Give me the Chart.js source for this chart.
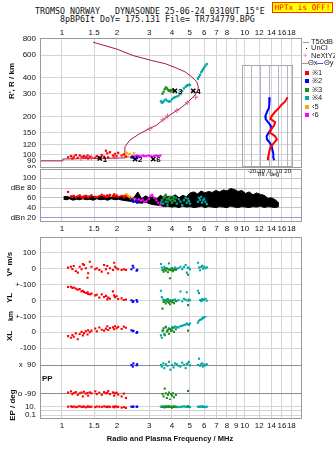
<!DOCTYPE html>
<html>
<head>
<meta charset="utf-8">
<title>Dynasonde ionogram</title>
<script src="https://cdn.jsdelivr.net/npm/chart.js@4.4.1/dist/chart.umd.min.js"></script>
<style>
  body { margin: 0; background: #fff; }
  #page { position: relative; width: 335px; height: 451px; overflow: hidden; font-family: "Liberation Sans", Arial, sans-serif; color: #111; }
  canvas { position: absolute; }
  .txt { position: absolute; white-space: pre; line-height: 1; }
  .mono { font-family: "DejaVu Sans Mono", monospace; font-size: 8.3px; line-height: 9px; }
  .rot { transform: translate(-50%, -50%) rotate(-90deg); font-weight: bold; font-size: 8px; }
  .leg { position: absolute; font-size: 7.5px; line-height: 8px; white-space: pre; color: #222; }
  .sq { position: absolute; width: 4px; height: 4px; }
  .ln { position: absolute; height: 1px; }
</style>
</head>
<body>
<div id="page">
  <div class="txt mono" style="left:35px;top:7px;">TROMSO NORWAY   DYNASONDE 25-06-24 0310UT 15°E</div>
  <div class="txt mono" style="left:60px;top:15px;">8pBP6It DoY= 175.131 File= TR734779.BPG</div>
  <div class="txt mono" style="left:272px;top:2px;width:59px;height:9px;background:#ffff00;border:1px solid #ff3000;color:#ff0000;font-size:7.7px;text-align:center;">HPTx is OFF!</div>

  <canvas id="main" width="335" height="144" style="left:0;top:24px;"></canvas>
  <canvas id="amp" width="335" height="68" style="left:0;top:168px;"></canvas>
  <canvas id="lower" width="335" height="215" style="left:0;top:236px;"></canvas>
  <canvas id="tilt" width="64" height="110" style="left:236px;top:65px;z-index:2;"></canvas>

  <div class="txt rot" style="left:12px;top:81px;">R', R / km</div>
  <div class="txt" style="left:268px;top:171px;font-size:6px;transform:translateX(-50%);z-index:3;">Tilt / deg</div>
  <div class="txt rot" style="left:10px;top:264px;">V* m/s</div>
  <div class="txt rot" style="left:10px;top:298px;">YL</div>
  <div class="txt rot" style="left:10px;top:316px;font-size:7px;">km</div>
  <div class="txt rot" style="left:10px;top:336px;">XL</div>
  <div class="txt" style="left:42px;top:375px;font-size:8px;font-weight:bold;">PP</div>
  <div class="txt rot" style="left:13px;top:405px;">EP / deg</div>
  <div class="txt" style="left:170px;top:435px;font-size:7.5px;font-weight:bold;transform:translateX(-50%);">Radio and Plasma Frequency / MHz</div>

  <div class="ln" style="left:303px;top:42px;width:6px;background:#999;"></div>
  <div class="leg" style="left:311px;top:38px;">T50dB</div>
  <div class="sq" style="left:306px;top:48px;width:1px;height:1px;background:#000;"></div>
  <div class="leg" style="left:311px;top:44px;">UnCl</div>
  <div class="leg" style="left:303px;top:52px;color:#e0608c;">+</div>
  <div class="leg" style="left:311px;top:52px;">NeXtYZ</div>
  <div class="ln" style="left:302px;top:63px;width:6px;background:#f07090;"></div>
  <div class="leg" style="left:308px;top:59px;">Θx</div>
  <div class="ln" style="left:317px;top:63px;width:6px;background:#5050ff;"></div>
  <div class="leg" style="left:324px;top:59px;">Θy</div>
  <div class="sq" style="left:305px;top:71px;background:#ff0000;"></div>
  <div class="leg" style="left:312px;top:69px;">※1</div>
  <div class="sq" style="left:305px;top:79px;background:#0000ff;"></div>
  <div class="leg" style="left:312px;top:77px;">※2</div>
  <div class="sq" style="left:305px;top:88px;background:#1f8c1f;"></div>
  <div class="leg" style="left:312px;top:86px;">※3</div>
  <div class="sq" style="left:305px;top:96px;background:#00a6a6;"></div>
  <div class="leg" style="left:312px;top:94px;">※4</div>
  <div class="sq" style="left:305px;top:105px;background:#ffa500;"></div>
  <div class="leg" style="left:312px;top:103px;">‹5</div>
  <div class="sq" style="left:305px;top:113px;background:#ff00ff;"></div>
  <div class="leg" style="left:312px;top:111px;">‹6</div>
</div>

<script>
// frequency axis (MHz) and tick values
const fMin = 0.758;
const fMax = 20.59;
const freqTicks = [1, 1.5, 2, 3, 4, 5, 6, 7, 8, 9, 10, 12, 14, 16, 18];
const heightTicks = [80, 90, 100, 120, 150, 200, 300, 400, 600, 800];
const ampTicks = [20, 40, 60, 80, 100];
const ampLabels = ['dBn 20', '40', '60', 'dBe 80', '100'];
const tiltTicks = [-20, -10, 0, 10, 20];

// plasma frequency profile
const profileFreq = [0.76, 1.01, 1.01, 1.5, 2.0, 2.21, 2.21, 2.36, 2.67, 3.03, 3.3, 3.59, 3.9, 4.15, 4.52, 4.92, 5.34, 5.55, 5.57, 5.46, 5.12, 4.71, 4.15, 3.7, 3.03, 2.45, 1.99, 1.61, 1.48];
const profileHeight = [90, 90, 93, 94, 94.5, 95, 116, 131, 147, 161, 171, 189, 205, 217, 235, 260, 293, 320, 340, 372, 406, 444, 480, 512, 548, 594, 668, 728, 754];

// NeXtYZ points
const nxFreq = [1.27, 1.45, 1.95, 3.03, 3.57, 3.78, 4.25, 4.85, 5.40];
const nxHeight = [94, 95, 97, 161, 188, 201, 222, 255, 282];

// trace markers
const markFreq = [1.61, 2.51, 3.16, 4.15, 5.23];
const markHeight = [94, 93, 93, 316, 316];
const markText = ['1', '2', '6', '3', '4'];

// echo 1 (red)
const x1Freq = [1.08, 1.12, 1.14, 1.16, 1.19, 1.22, 1.25, 1.28, 1.30, 1.32, 1.35, 1.38, 1.39, 1.42, 1.45, 1.52, 1.55, 1.60, 1.65, 1.70, 1.74, 1.77, 1.79, 1.83, 1.90, 1.93, 1.95, 1.99, 2.03, 2.12, 2.18, 2.24];
const x1Height = [96, 98, 94, 97, 100, 95, 99, 97, 95, 98, 96, 99, 94, 97, 96, 95, 98, 96, 100, 97, 108, 103, 96, 105, 99, 97, 102, 98, 104, 99, 101, 97];
const x1Amp = [72, 63, 62, 64, 61, 63, 65, 62, 60, 63, 64, 62, 61, 63, 65, 62, 61, 63, 66, 64, 62, 65, 63, 66, 64, 67, 63, 65, 62, 64, 61, 63];
const x1Vstar = [4, 10, -4, 14, -17, -27, 10, -6, 27, 21, 0, -59, -31, 41, 10, -6, 0, -11, -21, 21, -6, 14, -31, 0, -11, 35, 10, 0, -6, -11, -6, -11];
const x1YL = [83, 85, 77, 80, 73, 67, 70, 56, 60, 52, 46, 50, 40, 37, 42, 31, 35, 17, 37, 21, 28, 6, 17, 10, 56, 31, 20, 25, 8, 12, 2, 5];
const x1XL = [-25, -35, -19, -29, -8, -45, -12, 2, -20, -6, 6, -15, 12, 0, 10, 23, 5, 29, 15, 10, 22, 37, 14, 26, 30, 18, 37, 25, 33, 20, 35, 28];
const x1PP = [-85, -78, -95, -88, -82, -100, -90, -85, -110, -80, -92, -88, -105, -84, -90, -78, -95, -86, -100, -82, -90, -88, -76, -95, -84, -105, -90, -86, -98, -110, -92, -120];
const x1EP = [10, 12, 9, 11, 8, 10, 13, 9, 10, 11, 7, 10, 12, 9, 10, 8, 11, 10, 9, 12, 10, 8, 11, 9, 10, 7, 12, 10, 9, 6, 8, 5];

// echo 2 (blue)
const x2Freq = [2.40, 2.44, 2.46, 2.56, 2.58];
const x2Height = [96, 97, 95, 94, 96];
const x2Amp = [57, 55, 52, 54, 50];
const x2Vstar = [-6, 16, 5, -15, -10];
const x2YL = [0, -10, -5, 2, -8];
const x2XL = [12, 6, 8, -5, 0];
const x2PP = [90, 80, 100, 88, 95];
const x2EP = [10, 9, 11, 10, 10];

// echo 3 (green)
const x3Freq = [3.55, 3.60, 3.65, 3.70, 3.75, 3.80, 3.85, 3.90, 3.95, 4.00, 4.05, 4.10, 4.20, 4.90];
const x3Height = [300, 311, 325, 336, 330, 322, 315, 320, 312, 318, 325, 316, null, null];
const x3Amp = [55, 60, 64, 66, 58, 52, 60, 62, 56, 50, 58, 54, 60, 56];
const x3Vstar = [-11, -21, -5, -15, 0, -25, -8, -62, -12, -3, -18, -6, -10, -40];
const x3YL = [-52, -10, 0, -20, -8, 5, -15, -25, -5, -12, 0, -18, -6, -30];
const x3XL = [10, 25, -19, 33, 5, 15, -10, 20, 8, 12, 28, 2, 18, 10];
const x3PP = [-95, -110, -60, -90, -120, -100, -85, -130, -95, -105, -90, -115, -100, -75];
const x3EP = [9, 10, 7, 11, 10, 8, 12, 10, 9, 6, 11, 10, 8, 12];

// echo 4 (teal)
const x4Freq = [3.48, 3.52, 3.58, 3.63, 3.70, 3.78, 3.85, 3.92, 4.00, 4.08, 4.15, 4.25, 4.35, 4.45, 4.55, 4.65, 4.75, 4.82, 4.88, 4.95, 5.02, 5.55, 5.62, 5.70, 5.78, 5.85, 5.92, 6.00, 6.10, 6.20];
const x4Height = [262, 255, 258, 265, 270, 264, 260, 262, 272, 278, 282, 285, 290, 298, 315, 330, 340, 345, 350, 352, 350, 392, 405, 420, 440, 452, 465, 480, 495, 510];
const x4Amp = [50, 55, 48, 60, 52, 46, 58, 55, 50, 62, 54, 48, 57, 52, 45, 55, 60, 50, 58, 53, 48, 52, 60, 56, 62, 50, 55, 58, 52, 47];
const x4Vstar = [27, 5, -8, 10, 0, -5, 31, -3, 2, -8, 5, -2, 0, 10, -5, 8, 21, -27, 4, 0, -6, 35, 5, -12, 8, 15, -3, 10, 0, 6];
const x4YL = [60, 20, 5, -10, 0, 8, -5, 2, -8, 0, 5, -3, 0, 55, -6, 10, 3, 50, -2, 4, 0, 60, 45, 2, -5, 8, 0, 5, 10, -3];
const x4XL = [-20, -35, 10, -10, 29, 5, 25, 20, 30, 28, 35, 32, 30, 38, 40, 45, 48, 54, 50, 45, 55, 60, 72, 78, 80, 85, 90, 95, 100, 106];
const x4PP = [90, 80, 100, 70, 95, 85, 110, 60, 90, 75, 100, 95, 85, 80, 105, 90, 70, 95, 100, 110, 88, 90, 130, 85, 95, 100, 80, 92, 88, 95];
const x4EP = [10, 9, 11, 8, 10, 12, 10, 9, 7, 10, 11, 10, 8, 9, 10, 12, 10, 9, 11, 10, 8, 10, 9, 11, 10, 12, 9, 10, 8, 10];

// echoes 5 and 6 (orange, magenta)
const o5Freq = [2.22, 2.26, 2.30, 2.34, 2.38, 2.42, 2.48];
const o5Height = [100, 104, 97, 102, 96, 99, 103];
const o5Amp = [66, 67, 64, 62, 58, 60, 56];
const o6Freq = [2.52, 2.58, 2.64, 2.70, 2.76, 2.82, 2.90, 2.98, 3.05, 3.12, 3.20, 3.28, 3.36, 3.45];
const o6Height = [98, 99, 98, 97, 99, 98, 98, 99, 98, 97, 98, 99, 98, 99];
const o6Amp = [58, 55, 57, 54, 56, 52, 53, 58, 64, 66, 60, 55, 50, 45];

// noise amplitude band (dB)
const noiseFreq = [1.02, 1.06, 1.10, 1.15, 1.20, 1.25, 1.30, 1.36, 1.42, 1.48, 1.55, 1.62, 1.70, 1.78, 1.86, 1.95, 2.04, 2.14, 2.24, 2.35, 2.47, 2.60, 2.73, 2.87, 3.00, 3.15, 3.30, 3.46, 3.63, 3.80, 3.98, 4.17, 4.37, 4.58, 4.80, 5.03, 5.27, 5.52, 5.78, 6.05, 6.34, 6.64, 6.96, 7.29, 7.64, 8.00, 8.38, 8.78, 9.20, 9.64, 10.1, 10.6, 11.1, 11.6, 12.2, 12.8, 13.4, 14.0, 14.7, 15.4];
const noiseLow = [57, 56, 58, 55, 57, 56, 58, 56, 57, 55, 58, 56, 57, 55, 58, 56, 57, 55, 54, 53, 52, 50, 49, 51, 48, 46, 45, 44, 42, 43, 41, 42, 40, 43, 41, 42, 40, 41, 43, 40, 42, 41, 40, 42, 41, 40, 43, 41, 40, 42, 41, 40, 42, 41, 43, 40, 42, 41, 40, 42];
const noiseHigh = [62, 63, 61, 64, 62, 63, 61, 64, 62, 63, 61, 64, 62, 63, 61, 64, 62, 63, 66, 62, 60, 72, 58, 64, 60, 62, 58, 65, 60, 63, 62, 66, 60, 65, 62, 70, 72, 68, 74, 70, 73, 71, 75, 72, 76, 74, 79, 77, 73, 75, 69, 72, 66, 70, 67, 65, 59, 60, 56, 49];

// tilt inset
const tiltHeight = [281, 260, 245, 231, 217, 200, 190, 180, 170, 160, 150, 140, 132, 125, 118, 110, 102, 95, 91];
const thetaX = [20, 17, 13, 10, 6, 2, 1, 6, 5, 2, 0, 6, 8, 5, 2, 0, -1, -2, -2];
const thetaY = [0, -0.5, -0.5, -1, -3, -5, -4.5, -2, 1, 2, -1, -3.5, -3, 0, 2, 3, 4, 4, 5];

const RED = '#ff0000', BLUE = '#0000ff', GREEN = '#1f8c1f', TEAL = '#00a6a6', ORANGE = '#ffa500', MAGENTA = '#ff00ff';
const GRID = '#d4d4d4';
const tickFont = {family: 'Liberation Sans', size: 8};

const pts = (xs, ys) => xs.map((x, i) => ({x: x, y: ys[i]}));
const sq = (data, color) => ({data: data, backgroundColor: color, pointStyle: 'rect', pointRadius: 1.6, borderWidth: 0});

const framePlugin = {
    id: 'frame',
    afterDraw(chart, args, opts) {
        const a = chart.chartArea;
        const c = chart.ctx;
        c.save();
        c.strokeStyle = opts.color || '#999';
        c.lineWidth = 1;
        c.strokeRect(a.left + 0.5, a.top + 0.5, a.width - 1, a.height - 1);
        c.restore();
    }
};

const markPlugin = {
    id: 'marks',
    afterDatasetsDraw(chart) {
        const meta = chart.getDatasetMeta(0);
        const c = chart.ctx;
        c.save();
        c.font = 'bold 8px "Liberation Sans"';
        c.fillStyle = '#000';
        c.textBaseline = 'middle';
        meta.data.forEach((p, i) => c.fillText(markText[i], p.x + 3, p.y + 1));
        c.restore();
    }
};

// drop the padding Chart.js reserves for half-labels, so the plot areas sit where the canvases put them
function noPad(s) {
    s.paddingTop = 0;
    s.paddingBottom = 0;
    s.paddingLeft = 0;
    s.paddingRight = 0;
}

function freqAxis(position, height) {
    return {
        type: 'logarithmic', position: position, min: fMin, max: fMax, bounds: 'data',
        afterBuildTicks: s => { s.ticks = freqTicks.map(v => ({value: v})); },
        afterFit: s => { s.height = height; noPad(s); },
        ticks: {
            autoSkip: false, maxRotation: 0, padding: position === 'top' ? 0 : 2, font: tickFont, color: '#111',
            callback: v => (position === 'top' && v === 9) ? '' : String(v)
        },
        grid: {color: GRID, drawTicks: false},
        border: {display: false}
    };
}

function leftAxis(type, min, max, ticks, labels, gridColor, extra) {
    return Object.assign({
        type: type, position: 'left', min: min, max: max, bounds: 'data',
        afterBuildTicks: s => { s.ticks = ticks.map(v => ({value: v})); },
        afterFit: s => { s.width = 40; noPad(s); },
        ticks: {autoSkip: false, padding: 4, font: tickFont, color: '#111', callback: (v, i) => labels[i]},
        grid: {color: gridColor, drawTicks: false},
        border: {display: false}
    }, extra || {});
}

const baseOptions = (padTop, scales) => ({
    responsive: false, animation: false, devicePixelRatio: 1,
    layout: {padding: {left: 0, right: 33, top: padTop, bottom: 0}, autoPadding: false},
    plugins: {legend: {display: false}, tooltip: {enabled: false}, frame: {color: '#9a9a9a'}},
    scales: scales
});

// height panel
const mainSets = [
    {data: pts(markFreq, markHeight), pointStyle: 'crossRot', pointRadius: 3, borderColor: '#000', borderWidth: 1.5},
    {data: pts(nxFreq, nxHeight), pointStyle: 'cross', pointRadius: 2.5, borderColor: '#e0608c', borderWidth: 1},
    sq(pts(x1Freq, x1Height), RED),
    sq(pts(x2Freq, x2Height), BLUE),
    sq(pts(x3Freq, x3Height), GREEN),
    sq(pts(x4Freq, x4Height), TEAL),
    sq(pts(o5Freq, o5Height), ORANGE),
    sq(pts(o6Freq, o6Height), MAGENTA),
    {data: pts(profileFreq, profileHeight), showLine: true, borderColor: '#a8164a', borderWidth: 1, pointRadius: 0, tension: 0}
];
new Chart(document.getElementById('main'), {
    type: 'scatter',
    data: {datasets: mainSets},
    options: baseOptions(0, {
        x: freqAxis('top', 14),
        y: leftAxis('logarithmic', 79.2, 813.7, heightTicks, heightTicks.map(String), GRID)
    }),
    plugins: [framePlugin, markPlugin]
});

// amplitude panel
const ampSets = [
    sq(pts(x1Freq, x1Amp), RED),
    sq(pts(x2Freq, x2Amp), BLUE),
    sq(pts(x3Freq, x3Amp), GREEN),
    sq(pts(x4Freq, x4Amp), TEAL),
    sq(pts(o5Freq, o5Amp), ORANGE),
    sq(pts(o6Freq, o6Amp), MAGENTA),
    {type: 'line', data: pts(noiseFreq, noiseHigh), borderColor: '#000', borderWidth: 1, pointRadius: 0, fill: '+1', backgroundColor: '#000'},
    {type: 'line', data: pts(noiseFreq, noiseLow), borderColor: '#000', borderWidth: 1, pointRadius: 0, fill: false}
];
new Chart(document.getElementById('amp'), {
    type: 'scatter',
    data: {datasets: ampSets},
    options: baseOptions(1, {
        x: freqAxis('bottom', 14),
        y: leftAxis('linear', 10.4, 119, ampTicks, ampLabels, ctx => (ctx.tick && ctx.tick.value === 20) ? '#9a9ae6' : '#c4c4c4')
    }),
    plugins: [framePlugin]
});

// drift / polarisation panels
const echoes = [
    {freq: x1Freq, color: RED, vals: [x1Vstar, x1YL, x1XL, x1PP, x1EP]},
    {freq: x2Freq, color: BLUE, vals: [x2Vstar, x2YL, x2XL, x2PP, x2EP]},
    {freq: x3Freq, color: GREEN, vals: [x3Vstar, x3YL, x3XL, x3PP, x3EP]},
    {freq: x4Freq, color: TEAL, vals: [x4Vstar, x4YL, x4XL, x4PP, x4EP]}
];
const lowerAxes = ['yV', 'yYL', 'yXL', 'yPP', 'yEP'];
const lowerSets = [];
echoes.forEach(e => {
    e.vals.forEach((vals, k) => {
        const ds = sq(pts(e.freq, vals), e.color);
        ds.yAxisID = lowerAxes[k];
        ds.pointRadius = 1.5;
        lowerSets.push(ds);
    });
});
new Chart(document.getElementById('lower'), {
    type: 'scatter',
    data: {datasets: lowerSets},
    options: baseOptions(1, {
        x: freqAxis('bottom', 32),
        yV: leftAxis('linear', -100, 195.6, [100, 0], ['100', '0'], GRID, {stack: 'low', stackWeight: 47.3, weight: 5}),
        yYL: leftAxis('linear', -100, 100, [100, 0], ['+-100', '0'], GRID, {stack: 'low', stackWeight: 32, weight: 4}),
        yXL: leftAxis('linear', -144, 100, [100, 0, -100], ['+-100', '0', '-100'], GRID, {stack: 'low', stackWeight: 38.7, weight: 3}),
        yPP: leftAxis('linear', -132.6, 153.6, [90, -90], ['x  90', 'o -90'], '#8c8c8c', {stack: 'low', stackWeight: 45, weight: 2}),
        yEP: leftAxis('logarithmic', 0.0109, 411, [10, 1, 0.1], ['10.', '', '0.1'], GRID, {stack: 'low', stackWeight: 19, weight: 1})
    }),
    plugins: [framePlugin]
});

// tilt inset
new Chart(document.getElementById('tilt'), {
    type: 'scatter',
    data: {datasets: [
        {data: pts(thetaX, tiltHeight), showLine: true, borderColor: RED, borderWidth: 2, pointRadius: 0},
        {data: pts(thetaY, tiltHeight), showLine: true, borderColor: BLUE, borderWidth: 2, pointRadius: 0}
    ]},
    options: {
        responsive: false, animation: false, devicePixelRatio: 1,
        layout: {padding: {left: 6, right: 7, top: 0, bottom: 0}, autoPadding: false},
        plugins: {legend: {display: false}, tooltip: {enabled: false}, frame: {color: '#a8a8a8'}},
        scales: {
            x: {
                type: 'linear', min: -31, max: 26, bounds: 'data',
                afterBuildTicks: s => { s.ticks = tiltTicks.map(v => ({value: v})); },
                afterFit: s => { s.height = 8; noPad(s); },
                ticks: {autoSkip: false, maxRotation: 0, padding: 1, font: {family: 'Liberation Sans', size: 6}, color: '#111', callback: v => String(v)},
                grid: {color: '#b4b4c8', drawTicks: false},
                border: {display: false}
            },
            y: {type: 'logarithmic', min: 80.65, max: 501.6, display: false}
        }
    },
    plugins: [framePlugin]
});
</script>
</body>
</html>
